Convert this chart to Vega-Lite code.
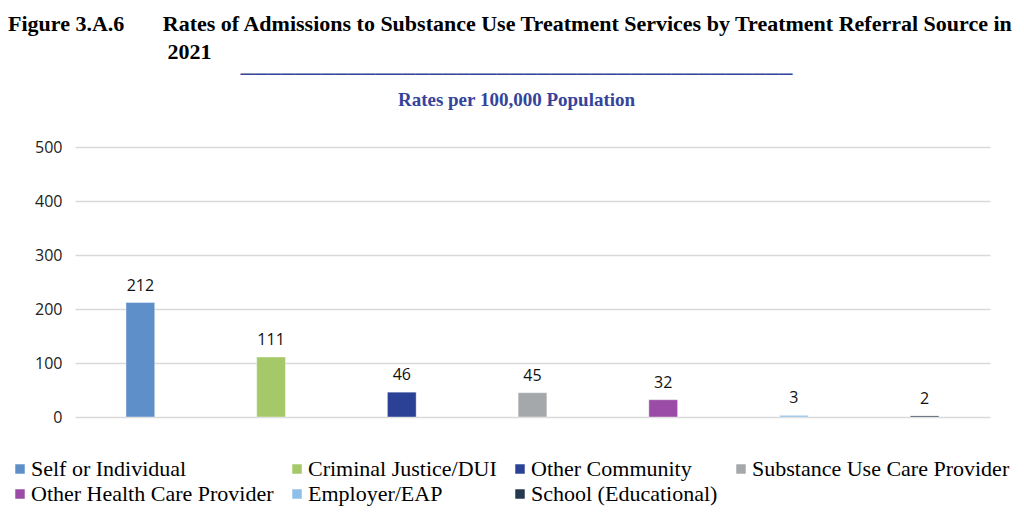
{
  "$schema": "https://vega.github.io/schema/vega-lite/v6.json",
  "width": 915,
  "height": 270,
  "autosize": {"type": "none"},
  "padding": {"left": 75, "top": 147, "right": 34, "bottom": 98},
  "background": "white",
  "title": {
    "text": [
      "Figure 3.A.6\u00a0\u00a0\u00a0\u00a0\u00a0\u00a0\u00a0Rates of Admissions to Substance Use Treatment Services by Treatment Referral Source in",
      "\u200b\u00a0\u00a0\u00a0\u00a0\u00a0\u00a0\u00a0\u00a0\u00a0\u00a0\u00a0\u00a0\u00a0\u00a0\u00a0\u00a0\u00a0\u00a0\u00a0\u00a0\u00a0\u00a0\u00a0\u00a0\u00a0\u00a0\u00a0\u00a0\u00a02021"
    ],
    "anchor": "start",
    "frame": "group",
    "dx": -67,
    "dy": 20,
    "font": "Liberation Serif",
    "fontSize": 22,
    "fontWeight": "bold",
    "color": "black",
    "lineHeight": 28,
    "offset": 20,
    "limit": 1100
  },
  "data": {
    "values": [
      {"source": "Self or Individual", "rate": 212},
      {"source": "Criminal Justice/DUI", "rate": 111},
      {"source": "Other Community", "rate": 46},
      {"source": "Substance Use Care Provider", "rate": 45},
      {"source": "Other Health Care Provider", "rate": 32},
      {"source": "Employer/EAP", "rate": 3},
      {"source": "School (Educational)", "rate": 2}
    ]
  },
  "encoding": {
    "x": {
      "field": "source",
      "type": "nominal",
      "sort": null,
      "scale": {"paddingInner": 0.78, "paddingOuter": 0.39},
      "axis": {
        "orient": "top",
        "labels": false,
        "ticks": false,
        "domain": false,
        "grid": false,
        "title": ["─────────────────────────────────────────", "Rates per 100,000 Population"],
        "titleFont": "Liberation Serif",
        "titleFontSize": 19,
        "titleFontWeight": "bold",
        "titleColor": "#34449a",
        "titleLineHeight": 26,
        "titlePadding": 38,
        "titleX": 441
      }
    },
    "y": {
      "field": "rate",
      "type": "quantitative",
      "scale": {"domain": [0, 500]},
      "axis": {
        "values": [0, 100, 200, 300, 400, 500],
        "title": null,
        "domain": false,
        "ticks": false,
        "labelPadding": 13,
        "labelFont": "Open Sans",
        "labelFontSize": 16,
        "labelColor": "#222222",
        "gridColor": "#d9d9d9",
        "gridWidth": 1.5
      }
    }
  },
  "layer": [
    {
      "mark": {"type": "bar", "stroke": "white", "strokeOpacity": 0.4, "strokeWidth": 1},
      "encoding": {
        "color": {
          "field": "source",
          "type": "nominal",
          "sort": null,
          "scale": {
            "domain": ["Self or Individual", "Criminal Justice/DUI", "Other Community", "Substance Use Care Provider", "Other Health Care Provider", "Employer/EAP", "School (Educational)"],
            "range": ["#5e8fc9", "#a5c868", "#2a4196", "#a5a8ab", "#9b4ca6", "#8ebfe9", "#253a4f"]
          },
          "legend": {
            "orient": "none",
            "legendX": -66,
            "legendY": 311,
            "direction": "horizontal",
            "columns": 4,
            "title": null,
            "symbolType": "square",
            "symbolSize": 90,
            "symbolStrokeWidth": 0,
            "labelFont": "Liberation Serif",
            "labelFontSize": 22,
            "labelColor": "black",
            "labelOffset": 0,
            "labelLimit": 400,
            "columnPadding": 12,
            "rowPadding": 3
          }
        }
      }
    },
    {
      "mark": {"type": "text", "dy": -12, "baseline": "alphabetic", "font": "Open Sans", "fontSize": 16, "color": "#111111"},
      "encoding": {
        "text": {"field": "rate", "type": "quantitative"}
      }
    }
  ],
  "config": {"view": {"stroke": null}}
}
